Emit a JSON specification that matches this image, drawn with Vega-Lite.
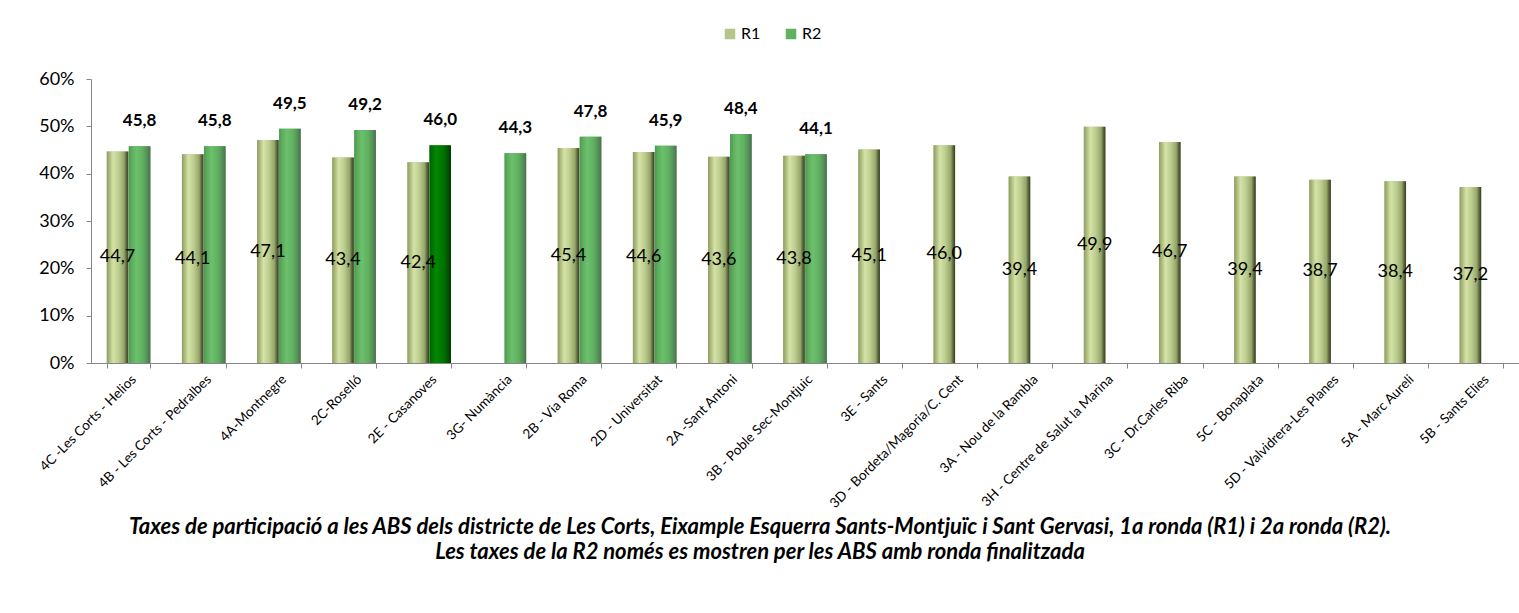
{
  "$schema": "https://vega.github.io/schema/vega-lite/v6.json",
  "width": 1428,
  "height": 284,
  "autosize": {"type": "none"},
  "padding": {"left": 91, "top": 79, "right": 0, "bottom": 250},
  "background": "white",
  "config": {
    "locale": {"number": {"decimal": ",", "thousands": ".", "grouping": [3], "currency": ["", " €"]}},
    "font": "Lato",
    "view": {"stroke": null},
    "axis": {"domainColor": "#868686", "tickColor": "#868686", "grid": false, "labelColor": "#000000", "labelFont": "Lato"}
  },
  "title": {
    "text": [
      "Taxes de participació a les ABS dels districte de Les Corts, Eixample Esquerra Sants-Montjuïc i Sant Gervasi, 1a ronda (R1) i 2a ronda (R2).",
      "Les taxes de la R2 només es mostren per les ABS amb ronda finalitzada"
    ],
    "orient": "bottom",
    "anchor": "middle",
    "font": "Lato",
    "fontSize": 22,
    "fontStyle": "italic",
    "fontWeight": "bold",
    "lineHeight": 25,
    "offset": 7,
    "dx": -45,
    "color": "#000000"
  },
  "data": {
    "values": [
      {"abs": "4C -Les Corts - Helios", "ronda": "R1", "taxa": 44.7},
      {"abs": "4C -Les Corts - Helios", "ronda": "R2", "taxa": 45.8},
      {"abs": "4B - Les Corts - Pedralbes", "ronda": "R1", "taxa": 44.1},
      {"abs": "4B - Les Corts - Pedralbes", "ronda": "R2", "taxa": 45.8},
      {"abs": "4A-Montnegre", "ronda": "R1", "taxa": 47.1},
      {"abs": "4A-Montnegre", "ronda": "R2", "taxa": 49.5},
      {"abs": "2C-Roselló", "ronda": "R1", "taxa": 43.4},
      {"abs": "2C-Roselló", "ronda": "R2", "taxa": 49.2},
      {"abs": "2E - Casanoves", "ronda": "R1", "taxa": 42.4},
      {"abs": "2E - Casanoves", "ronda": "R2", "taxa": 46.0},
      {"abs": "3G- Numància", "ronda": "R2", "taxa": 44.3},
      {"abs": "2B - Via Roma", "ronda": "R1", "taxa": 45.4},
      {"abs": "2B - Via Roma", "ronda": "R2", "taxa": 47.8},
      {"abs": "2D - Universitat", "ronda": "R1", "taxa": 44.6},
      {"abs": "2D - Universitat", "ronda": "R2", "taxa": 45.9},
      {"abs": "2A -Sant Antoni", "ronda": "R1", "taxa": 43.6},
      {"abs": "2A -Sant Antoni", "ronda": "R2", "taxa": 48.4},
      {"abs": "3B - Poble Sec-Montjuic", "ronda": "R1", "taxa": 43.8},
      {"abs": "3B - Poble Sec-Montjuic", "ronda": "R2", "taxa": 44.1},
      {"abs": "3E - Sants", "ronda": "R1", "taxa": 45.1},
      {"abs": "3D - Bordeta/Magoria/C. Cent", "ronda": "R1", "taxa": 46.0},
      {"abs": "3A - Nou de la Rambla", "ronda": "R1", "taxa": 39.4},
      {"abs": "3H - Centre de Salut la Marina", "ronda": "R1", "taxa": 49.9},
      {"abs": "3C - Dr.Carles Riba", "ronda": "R1", "taxa": 46.7},
      {"abs": "5C - Bonaplata", "ronda": "R1", "taxa": 39.4},
      {"abs": "5D - Valvidrera-Les Planes", "ronda": "R1", "taxa": 38.7},
      {"abs": "5A - Marc Aureli", "ronda": "R1", "taxa": 38.4},
      {"abs": "5B - Sants Elies", "ronda": "R1", "taxa": 37.2}
    ]
  },
  "encoding": {
    "x": {
      "field": "abs",
      "type": "nominal",
      "sort": null,
      "scale": {"paddingInner": 0.42, "paddingOuter": 0.21},
      "axis": {"title": null, "labelAngle": -45, "labelFontSize": 13.5, "tickBand": "extent", "tickSize": 5, "labelPadding": 4, "labelLimit": 300}
    },
    "xOffset": {"field": "ronda", "type": "nominal", "scale": {"domain": ["R1", "R2"], "paddingInner": 0.02}}
  },
  "layer": [
    {
      "mark": {"type": "bar"},
      "encoding": {
        "y": {"field": "taxa", "type": "quantitative", "scale": {"domain": [0, 60]},
          "axis": {"title": null, "values": [0, 10, 20, 30, 40, 50, 60], "labelExpr": "datum.value + '%'", "labelFontSize": 18, "tickSize": 5, "labelPadding": 12}},
        "color": {"field": "ronda", "type": "nominal", "scale": {"domain": ["R1", "R2"], "range": ["#b4c68a", "#5fb25f"]},
          "legend": {"title": null, "orient": "none", "legendX": 631, "legendY": -53, "direction": "horizontal", "symbolType": "square", "symbolSize": 110, "labelFontSize": 16, "columnPadding": 22, "symbolOffset": 0, "labelOffset": 3}}
      }
    },
    {
      "transform": [{"filter": "datum.ronda == 'R1'"}],
      "mark": {"type": "bar", "fill": {"gradient": "linear", "x1": 0, "y1": 0, "x2": 1, "y2": 0,
        "stops": [
          {"offset": 0, "color": "#8e9b62"},
          {"offset": 0.12, "color": "#aab87c"},
          {"offset": 0.3, "color": "#d5e3a6"},
          {"offset": 0.55, "color": "#bccd8e"},
          {"offset": 0.8, "color": "#96a66a"},
          {"offset": 0.9, "color": "#5f6a40"},
          {"offset": 1, "color": "#363d24"}
        ]}},
      "encoding": {
        "y": {"field": "taxa", "type": "quantitative", "scale": {"domain": [0, 60]}, "axis": null}
      }
    },
    {
      "transform": [{"filter": "datum.ronda == 'R2' && datum.abs != '2E - Casanoves'"}],
      "mark": {"type": "bar", "fill": {"gradient": "linear", "x1": 0, "y1": 0, "x2": 1, "y2": 0,
        "stops": [
          {"offset": 0, "color": "#4f9a4f"},
          {"offset": 0.15, "color": "#5eae5e"},
          {"offset": 0.35, "color": "#6cc06c"},
          {"offset": 0.65, "color": "#5fb05f"},
          {"offset": 0.85, "color": "#55905a"},
          {"offset": 1, "color": "#4a6e4c"}
        ]}},
      "encoding": {
        "y": {"field": "taxa", "type": "quantitative", "scale": {"domain": [0, 60]}, "axis": null}
      }
    },
    {
      "transform": [{"filter": "datum.ronda == 'R2' && datum.abs == '2E - Casanoves'"}],
      "mark": {"type": "bar", "fill": {"gradient": "linear", "x1": 0, "y1": 0, "x2": 1, "y2": 0,
        "stops": [
          {"offset": 0, "color": "#006000"},
          {"offset": 0.3, "color": "#008800"},
          {"offset": 0.65, "color": "#007300"},
          {"offset": 0.9, "color": "#004d00"},
          {"offset": 1, "color": "#003800"}
        ]}},
      "encoding": {
        "y": {"field": "taxa", "type": "quantitative", "scale": {"domain": [0, 60]}, "axis": null}
      }
    },
    {
      "transform": [{"filter": "datum.ronda == 'R1'"}],
      "mark": {"type": "text", "fontSize": 18, "baseline": "middle", "align": "center", "color": "#000000"},
      "encoding": {
        "y": {"field": "taxa", "type": "quantitative", "scale": {"domain": [0, 120]}, "axis": null},
        "text": {"field": "taxa", "type": "quantitative", "format": ".1f"}
      }
    },
    {
      "transform": [{"filter": "datum.ronda == 'R2'"}],
      "mark": {"type": "text", "fontSize": 17, "fontWeight": "bold", "baseline": "bottom", "align": "center", "dy": -16, "color": "#000000"},
      "encoding": {
        "y": {"field": "taxa", "type": "quantitative", "scale": {"domain": [0, 60]}, "axis": null},
        "text": {"field": "taxa", "type": "quantitative", "format": ".1f"}
      }
    }
  ],
  "resolve": {"scale": {"y": "independent"}}
}
